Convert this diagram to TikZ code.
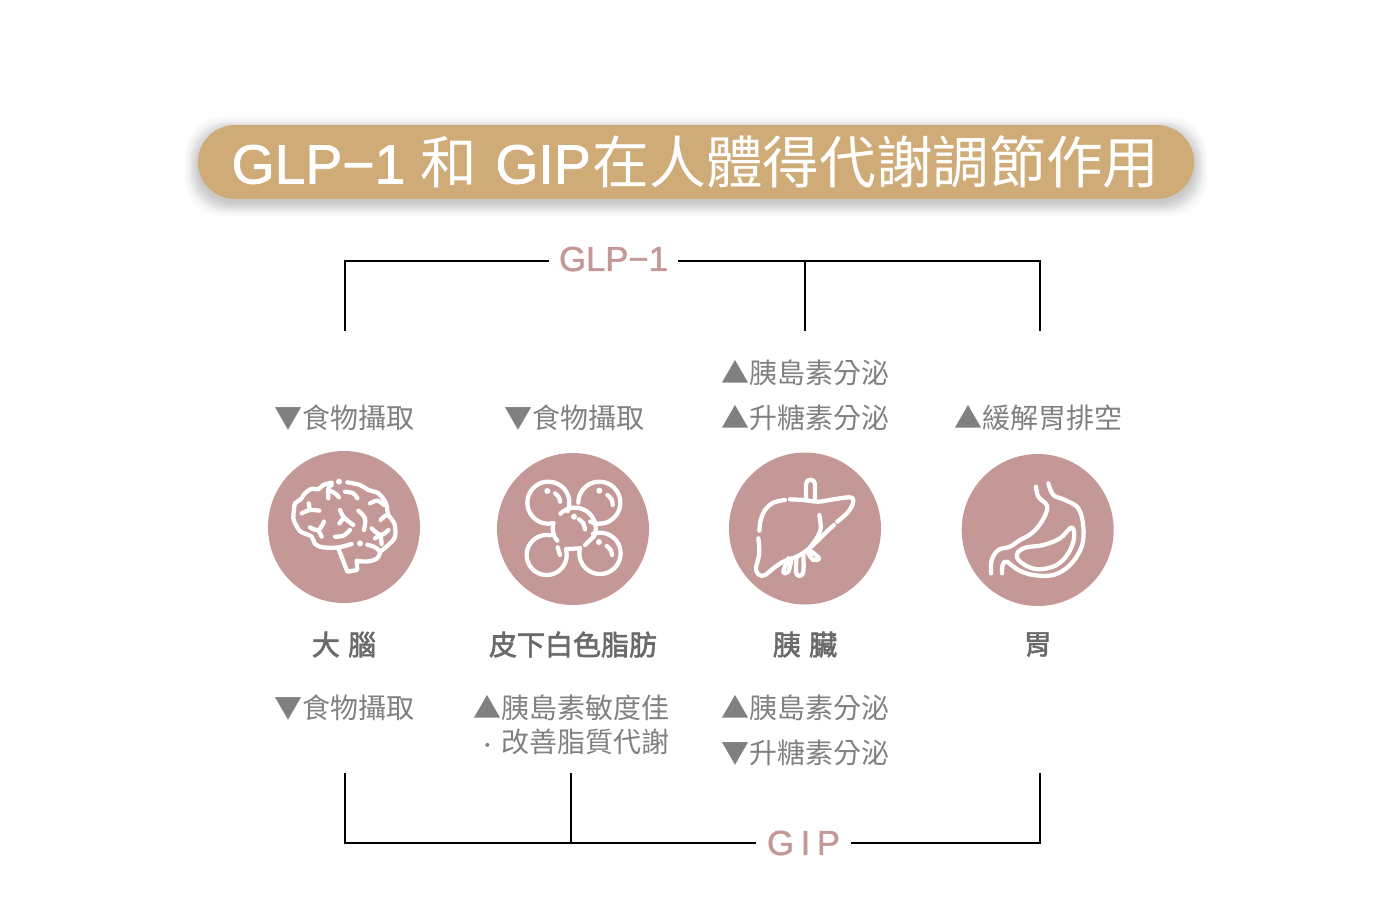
\documentclass[tikz,border=0pt]{standalone}
\usepackage{fontspec}
\setmainfont{Liberation Sans}
\newfontfamily\cjk{Noto Sans CJK TC}
\newfontfamily\cjkm[FakeBold=2.2]{Noto Sans CJK TC}
\newfontfamily\lat[FakeBold=1.4]{Liberation Sans}
\definecolor{rose}{HTML}{C49896}
\definecolor{sand}{HTML}{CFAB78}
\definecolor{txt}{HTML}{808080}
\definecolor{txtb}{HTML}{6A6A6A}
\tikzset{
  conn/.style={draw=black,line width=1.5pt,line join=miter},
  disc/.style={circle,fill=rose,minimum size=114pt,inner sep=0pt},
  effect/.style={font=\cjk\fontsize{21}{21}\selectfont,text=txt,inner sep=0pt},
  organ/.style={font=\cjkm\fontsize{21}{21}\selectfont,text=txtb,inner sep=0pt},
  ic/.style={draw=white,line width=3.2pt,line cap=round,line join=round},
  grp/.style={font=\lat\fontsize{26}{26}\selectfont,text=rose,inner sep=0pt,minimum height=20pt},
}
\newcommand\icarc[5]{\draw[ic] plot[domain=#4:#5,samples=40,smooth] ({#1+#3*cos(\x)},{#2+#3*sin(\x)});}
\newcommand\icl[1]{\draw[ic] plot[smooth,tension=.6] coordinates {#1};}
\newcommand\icdot[2]{\fill[white] (#1,#2) circle (9);}
\newcommand\ttl[1]{{\cjk\fontsize{42.5}{42.5}\selectfont #1}}
\begin{document}
\begin{tikzpicture}[x=.75pt,y=-.75pt]
\useasboundingbox (0,0) rectangle (1391,900);
% title bar
\foreach \e in {13,11,9,8,7,6,5,4,3,2,1,0}{
  \fill[black,opacity=.02,rounded corners=28pt] ({198-\e},{130-\e}) rectangle ({1194+\e},{203+\e});
}
\node[fill=sand,rounded corners=27.75pt,minimum width=747pt,minimum height=55.5pt,inner sep=0pt] (bar) at (696,162) {};
\node[text=white,inner sep=0pt,font=\lat\fontsize{41.5}{41.5}\selectfont] (title) at (695.5,162) {GLP−1 \ttl{和} \hspace{2pt}GIP\hspace{1.5pt}\ttl{在人體得代謝調節作用}};
% group labels
\node[grp,minimum width=96.75pt] (glp) at (613.5,261) {\raisebox{3.2pt}{GLP−1}};
\node[grp,minimum width=70.5pt] (gip) at (803.5,843) {\raisebox{0pt}{G\hspace{5pt}I\hspace{5pt}P}};
% discs
\node[disc] (brain) at (344,527) {};
\node[disc] (fat) at (573,529) {};
\node[disc] (liver) at (805,528.5) {};
\node[disc] (stomach) at (1037.7,530) {};
% connectors
\coordinate (ta) at (345,331); \coordinate (tb) at (805,331); \coordinate (tc) at (1040,331);
\coordinate (tj) at (805,261);
\coordinate (ba) at (345,773); \coordinate (bb) at (571,773); \coordinate (bc) at (1040,773);
\coordinate (bj) at (571,843);
\draw[conn] (ta) |- (glp.west);
\draw[conn] (tc) |- (glp.east);
\draw[conn] (tb) -- (tj);
\draw[conn] (ba) |- (gip.west);
\draw[conn] (bc) |- (gip.east);
\draw[conn] (bb) -- (bj);
% effect labels
\node[effect] (e1) at (344.5,418) {▼食物攝取};
\node[effect] (e2) at (574,418) {▼食物攝取};
\node[effect] (e3) at (805.5,373) {▲胰島素分泌};
\node[effect] (e4) at (805.5,418) {▲升糖素分泌};
\node[effect] (e5) at (1038.5,418) {▲緩解胃排空};
\node[effect] (f1) at (344.5,708) {▼食物攝取};
\node[effect] (f2) at (571.5,708) {▲胰島素敏度佳};
\node[effect] (f3) at (571.5,742) {\makebox[21pt]{\fontsize{14}{14}\selectfont ‧}改善脂質代謝};
\node[effect] (f4) at (805.5,708) {▲胰島素分泌};
\node[effect] (f5) at (805.5,753) {▼升糖素分泌};
% organ labels
\node[organ] (o1) at (344,644.5) {大\hspace{1.5pt} 腦};
\node[organ] (o2) at (573,644.5) {皮下白色脂肪};
\node[organ] (o3) at (805,644.5) {胰\hspace{1.5pt} 臟};
\node[organ] (o4) at (1037.7,644.5) {胃};
% brain icon
\begin{scope}[shift={(260,440)},x=.25pt,y=-.25pt]
\icl{(215,128)(190,135)(175,148)(155,146)(135,160)(122,178)(105,190)(102,210)(100,235)(108,255)(122,275)(155,290)(165,312)(190,322)(235,322)(275,312)}
\icl{(262,127)(300,135)(325,150)(355,160)(378,190)(385,225)(403,250)(405,290)(385,315)(360,335)}
\draw[ic] (235,325) -- (262,395) -- (292,390) -- (290,362) .. controls (330,370) and (360,360) .. (360,335) .. controls (350,320) and (335,318) .. (322,314);
\icl{(205,175)(205,145)(215,135)}
\icl{(205,150)(225,160)(237,172)}
\icl{(255,155)(280,160)(292,175)}
\icl{(330,190)(352,182)(372,195)}
\icl{(125,220)(150,210)(178,212)}
\draw[ic] (150,210) -- (146,190);
\icl{(240,210)(252,232)(280,255)}
\draw[ic] (252,232) -- (238,250);
\icl{(295,212)(315,235)(312,270)}
\icl{(225,290)(250,287)(270,270)}
\icl{(150,262)(175,270)(192,245)}
\draw[ic] (175,270) -- (185,290);
\icl{(335,265)(362,285)(385,270)}
\draw[ic] (362,285) -- (365,312);
\draw[ic] (362,285) -- (345,295);
\icl{(362,240)(375,228)(385,225)}
\icdot{237}{125}\icdot{300}{310}
\end{scope}
% fat icon
\begin{scope}[shift={(260,440)},x=.25pt,y=-.25pt]
\icarc{865}{188}{63}{76}{384}
\icarc{1018}{188}{63}{180}{476}
\icarc{860}{345}{60}{-15}{280}
\icarc{1020}{340}{62}{-110}{195}
\icarc{945}{265}{62}{225}{384}
\draw[ic] (1002,288) -- (975,315);
\draw[ic] (880,250) .. controls (875,270) and (880,290) .. (892,302);
\draw[ic] (918,327) -- (960,325);
\icdot{862}{153}\icdot{1018}{152}\icdot{942}{230}\icdot{1017}{306}
\icl{(885,160)(897,172)(900,185)}
\icl{(1042,165)(1055,178)(1058,195)}
\icl{(957,238)(970,250)(975,268)}
\icl{(1040,318)(1052,330)(1056,345)}
\draw[ic] (893,322) -- (900,345);
\end{scope}
% liver icon
\begin{scope}[shift={(720,440)},x=.25pt,y=-.25pt]
\icl{(195,180)(160,188)(135,210)(122,240)(118,272)}
\icl{(115,295)(118,340)(108,385)(118,405)(135,405)(160,385)(190,365)(230,350)(262,330)(295,300)(320,275)(342,255)}
\icl{(352,245)(385,215)(400,185)(390,172)(340,178)(295,185)(250,180)(210,178)}
\draw[ic] (258,178) -- (258,132) .. controls (258,115) and (285,115) .. (285,132) -- (285,183);
\icl{(298,225)(302,265)(290,295)(270,322)}
\icl{(205,355)(190,395)(205,395)(215,355)}
\icl{(230,350)(228,395)(238,408)(250,395)(250,345)}
\icl{(262,335)(280,360)(297,355)(275,335)}
\end{scope}
% stomach icon
\begin{scope}[shift={(720,440)},x=.25pt,y=-.25pt]
\icl{(948,140)(955,170)(982,200)(965,245)(935,280)(900,300)(870,320)(835,330)(815,360)(813,400)}
\icl{(985,130)(1000,165)(1035,180)(1075,205)(1090,260)(1085,320)(1050,375)(1000,405)(940,405)(895,390)(860,365)(848,375)(846,400)}
\draw[ic] plot[smooth cycle,tension=.6] coordinates {(1055,262)(1020,295)(970,315)(920,322)(895,335)(892,355)(920,378)(960,388)(1010,375)(1045,340)(1062,295)};
\end{scope}
\end{tikzpicture}
\end{document}
